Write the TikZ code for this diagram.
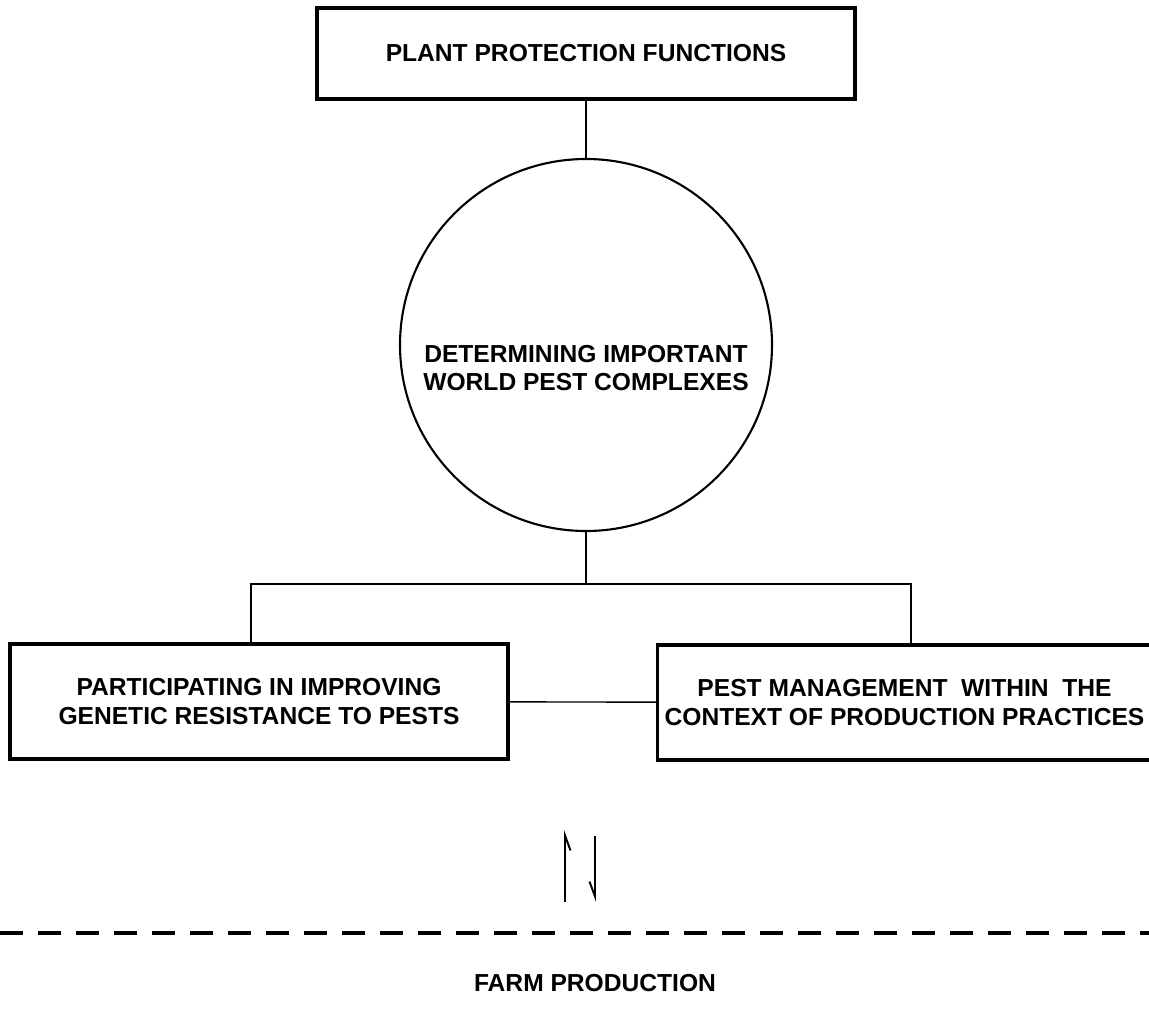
\documentclass[tikz,border=0pt]{standalone}
\usepackage{fontspec}
\setmainfont{Liberation Sans}
\usepackage{tikz}
\usetikzlibrary{arrows.meta, positioning, calc}

\begin{document}
\begin{tikzpicture}[
  font=\bfseries\fontsize{14}{16}\selectfont,
  box/.style={rectangle, draw=black, line width=2pt, align=center,
              minimum height=2.3cm, inner sep=4pt},
  circ/.style={circle, draw=black, line width=1.2pt, minimum size=7.44cm},
  link/.style={draw=black, line width=0.8pt},
  harp/.style={line width=1.1pt, -{Straight Barb[right, length=0.3cm, width=0.22cm]}},
  sep/.style={line width=1.8pt, dash pattern=on 0.46cm off 0.3cm}
]
  \useasboundingbox (0,0) rectangle (22.98,-20.18);

  % upper part
  \node[box, minimum width=10.76cm, minimum height=1.82cm] (ppf) at (11.72,-1.07) {PLANT PROTECTION FUNCTIONS};
  \node[circ] (det) at (11.72,-6.9) {};
  \node[align=center] (dettext) at ([yshift=-0.46cm]det.center) {DETERMINING IMPORTANT\\ WORLD PEST COMPLEXES};
  \coordinate (split) at (11.72,-11.68);

  % the two activities
  \node[box, minimum width=9.96cm] (part) at (5.18,-14.03) {PARTICIPATING IN IMPROVING\\ GENETIC RESISTANCE TO PESTS};
  \node[box, minimum width=9.7cm]  (pest) at (18.09,-14.05) {PEST MANAGEMENT\ \ WITHIN\ \ THE\\ CONTEXT OF PRODUCTION PRACTICES};

  \draw[link] (ppf) -- (det);
  \draw[link] (det) -- (split);
  \draw[link] ([xshift=-0.16cm]part.north) |- (split) -| ([xshift=0.13cm]pest.north);
  \draw[link] (part) -- (pest);

  % exchange with the farm
  \coordinate (upa) at (11.3,-18.04);
  \coordinate (upb) at (11.3,-16.6);
  \coordinate (dna) at (11.9,-16.72);
  \coordinate (dnb) at (11.9,-18.04);
  \draw[harp] (upa) -- (upb);
  \draw[harp] (dna) -- (dnb);

  \coordinate (sepl) at (0,-18.66);
  \coordinate (sepr) at (22.98,-18.66);
  \draw[sep] (sepl) -- (sepr);

  \node (farm) at (11.9,-19.66) {FARM PRODUCTION};
\end{tikzpicture}
\end{document}
